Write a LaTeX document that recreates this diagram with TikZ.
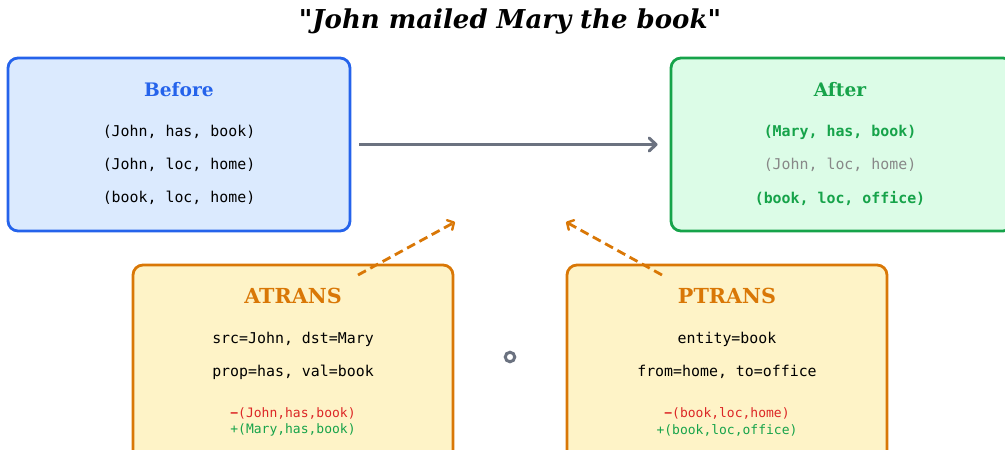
\documentclass[tikz,border=0pt]{standalone}
\usepackage{fontspec}
\newfontfamily\dvserif{DejaVu Serif}
\newfontfamily\dvmono{DejaVu Sans Mono}
\usetikzlibrary{arrows.meta}
\definecolor{bluebd}{HTML}{2563EB}
\definecolor{bluefill}{HTML}{DBEAFE}
\definecolor{greenbd}{HTML}{16A34A}
\definecolor{greenfill}{HTML}{DCFCE7}
\definecolor{orangebd}{HTML}{D97706}
\definecolor{orangefill}{HTML}{FEF3C7}
\definecolor{arrowgray}{HTML}{6B7280}
\definecolor{oldgray}{HTML}{888888}
\definecolor{delred}{HTML}{DC2626}
\tikzset{
  statebox/.style={draw, rounded corners=10pt, line width=2.8pt, minimum width=342pt, minimum height=173pt, inner sep=0pt},
  actbox/.style={draw=orangebd, fill=orangefill, rounded corners=10pt, line width=2.8pt, minimum width=320pt, minimum height=200pt, inner sep=0pt},
  head/.style={font=\dvserif\bfseries\fontsize{18.6}{21}\selectfont, inner sep=0pt, anchor=center},
  acthead/.style={text=orangebd, font=\dvserif\bfseries\fontsize{20.7}{23}\selectfont, inner sep=0pt, anchor=center},
  mono/.style={font=\dvmono\fontsize{14.9}{17}\selectfont, inner sep=0pt, anchor=center},
  boldmono/.style={text=greenbd, font=\dvmono\bfseries\fontsize{14.9}{17}\selectfont, inner sep=0pt, anchor=center},
  smallmono/.style={font=\dvmono\fontsize{13}{15}\selectfont, inner sep=0pt, anchor=center},
  mainarrow/.style={draw=arrowgray, line width=3.2pt, -{Straight Barb[length=7pt,width=13pt,line width=3pt,round]}},
  actarrow/.style={draw=orangebd, line width=2.8pt, dash pattern=on 9pt off 5pt, -{Straight Barb[length=5pt,width=11pt,line width=2.4pt,round]}}
}
\begin{document}
\begin{tikzpicture}[x=1pt,y=-1pt]
\useasboundingbox (0,0) rectangle (1005,450);
% title
\node[font=\dvserif\bfseries\itshape\fontsize{26}{30}\selectfont, inner sep=0pt] (title) at (510,22) {"John mailed Mary the book"};
% before
\node[statebox, draw=bluebd, fill=bluefill] (before) at (179,144.5) {};
\node[head, text=bluebd] (bh) at (179,90) {Before};
\node[mono] (b1) at (179,132) {(John, has, book)};
\node[mono] (b2) at (179,165) {(John, loc, home)};
\node[mono] (b3) at (179,198) {(book, loc, home)};
% after
\node[statebox, draw=greenbd, fill=greenfill] (after) at (842,144.5) {};
\node[head, text=greenbd] (ah) at (840,90) {After};
\node[boldmono] (a1) at (840,132) {(Mary, has, book)};
\node[mono, text=oldgray] (a2) at (840,165) {(John, loc, home)};
\node[boldmono] (a3) at (840,198) {(book, loc, office)};
% main arrow
\draw[mainarrow, shorten <=8pt, shorten >=12pt] (before.east) -- (after.west);
% ATRANS
\node[actbox] (atrans) at (293,365) {};
\node[acthead] (ath) at (293,296) {ATRANS};
\node[mono] (at1) at (293,339) {src=John, dst=Mary};
\node[mono] (at2) at (293,372) {prop=has, val=book};
\node[smallmono, text=delred] (at3) at (293,413) {{\bfseries −}(John,has,book)};
\node[smallmono, text=greenbd] (at4) at (293,430) {+(Mary,has,book)};
% PTRANS
\node[actbox] (ptrans) at (727,365) {};
\node[acthead] (pth) at (727,296) {PTRANS};
\node[mono] (pt1) at (727,339) {entity=book};
\node[mono] (pt2) at (727,372) {from=home, to=office};
\node[smallmono, text=delred] (pt3) at (727,413) {{\bfseries −}(book,loc,home)};
\node[smallmono, text=greenbd] (pt4) at (727,430) {+(book,loc,office)};
% composition circle
\node[draw=arrowgray, fill=white, circle, line width=3pt, minimum size=9.5pt, inner sep=0pt] (comp) at (510,357) {};
% dashed arrows
\coordinate (as) at (358,275);
\coordinate (ae) at (455,222);
\coordinate (ps) at (662,275);
\coordinate (pe) at (566,222);
\draw[actarrow] (as) -- (ae);
\draw[actarrow] (ps) -- (pe);
\end{tikzpicture}
\end{document}
